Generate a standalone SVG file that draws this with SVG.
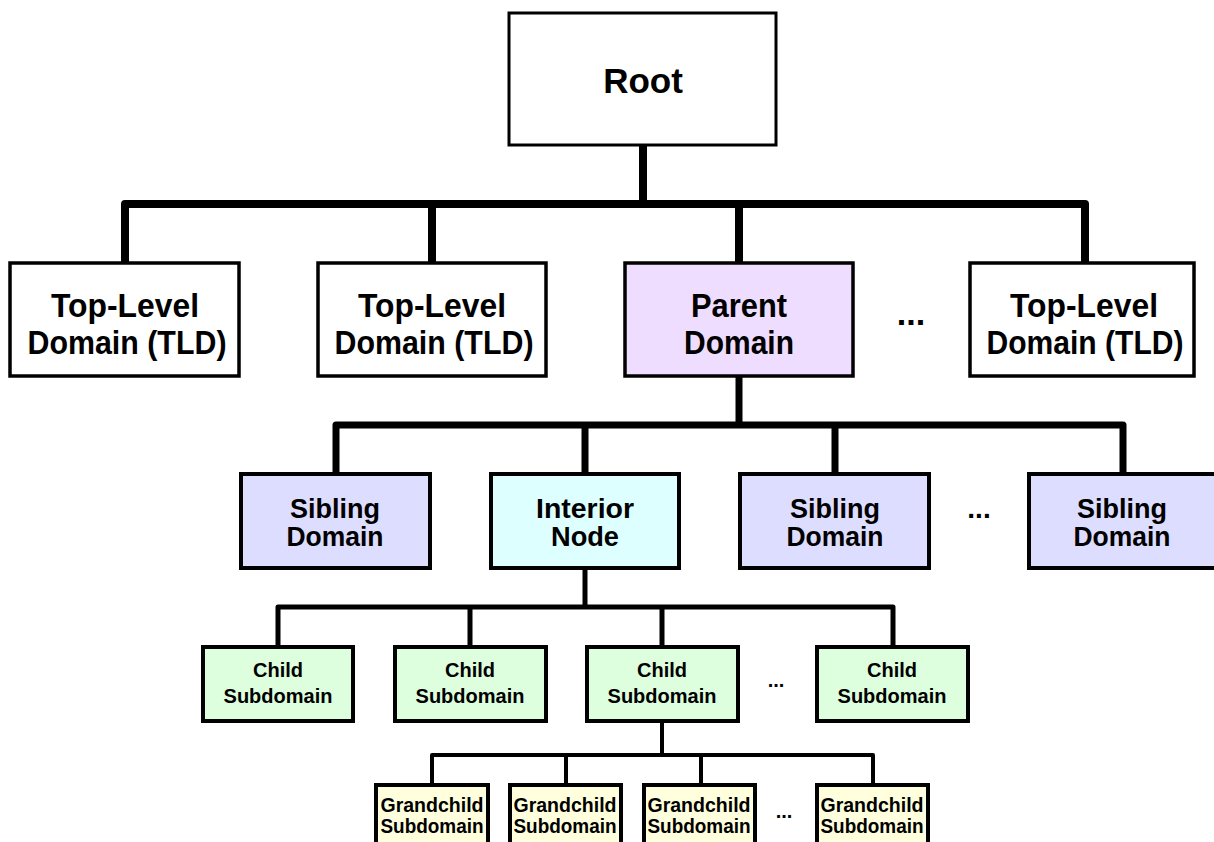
<svg xmlns="http://www.w3.org/2000/svg" width="1214" height="842" viewBox="0 0 1214 842">
<style>
.box{stroke:#000;}
.t{font-family:"Liberation Sans",Arial,Helvetica,sans-serif;font-weight:bold;fill:#000;text-anchor:middle;}
.c{fill:none;stroke:#000;stroke-linejoin:round;stroke-linecap:butt;}
</style>
<rect width="1214" height="842" fill="#fff"/>
<g id="connectors">
  <path class="c" stroke-width="8" d="M643 145 V204"/>
  <path class="c" stroke-width="8" d="M125 263 V204 H1085 V263 M432 204 V263 M739 204 V263"/>
  <path class="c" stroke-width="7" d="M739 376 V425"/>
  <path class="c" stroke-width="7" d="M336 474 V425 H1123 V474 M585 425 V474 M835 425 V474"/>
  <path class="c" stroke-width="5" d="M585 568 V607"/>
  <path class="c" stroke-width="5" d="M278 647 V607 H893 V647 M470 607 V647 M662 607 V647"/>
  <path class="c" stroke-width="4" d="M662 721 V755"/>
  <path class="c" stroke-width="4" d="M432 785 V755 H873 V785 M566 755 V785 M701 755 V785"/>
</g>
<g id="root">
  <rect class="box" x="509" y="13" width="267" height="132" fill="#fff" stroke-width="3"/>
  <text class="t" x="643" y="93" font-size="35">Root</text>
</g>
<g id="tld1">
  <rect class="box" x="10" y="263" width="229" height="113" fill="#fff" stroke-width="3.5"/>
  <text class="t" x="125" y="317" font-size="34" textLength="148" lengthAdjust="spacingAndGlyphs">Top-Level</text>
  <text class="t" x="127" y="354" font-size="34" textLength="199" lengthAdjust="spacingAndGlyphs">Domain (TLD)</text>
</g>
<g id="tld2">
  <rect class="box" x="318" y="263" width="228" height="113" fill="#fff" stroke-width="3.5"/>
  <text class="t" x="432" y="317" font-size="34" textLength="148" lengthAdjust="spacingAndGlyphs">Top-Level</text>
  <text class="t" x="434" y="354" font-size="34" textLength="199" lengthAdjust="spacingAndGlyphs">Domain (TLD)</text>
</g>
<g id="parent">
  <rect class="box" x="625" y="263" width="228" height="113" fill="#EEDDFF" stroke-width="3.5"/>
  <text class="t" x="739" y="317" font-size="34" textLength="96" lengthAdjust="spacingAndGlyphs">Parent</text>
  <text class="t" x="739" y="354" font-size="34" textLength="110" lengthAdjust="spacingAndGlyphs">Domain</text>
</g>
<g id="tld-more">
  <text class="t" x="911" y="325" font-size="34">...</text>
</g>
<g id="tld4">
  <rect class="box" x="970" y="263" width="224" height="113" fill="#fff" stroke-width="3.5"/>
  <text class="t" x="1084" y="317" font-size="34" textLength="148" lengthAdjust="spacingAndGlyphs">Top-Level</text>
  <text class="t" x="1085" y="354" font-size="34" textLength="197" lengthAdjust="spacingAndGlyphs">Domain (TLD)</text>
</g>
<g id="sibling1">
  <rect class="box" x="241" y="474" width="189" height="94" fill="#DDDDFF" stroke-width="4"/>
  <text class="t" x="335" y="518" font-size="28" textLength="90" lengthAdjust="spacingAndGlyphs">Sibling</text>
  <text class="t" x="335" y="546" font-size="28" textLength="97" lengthAdjust="spacingAndGlyphs">Domain</text>
</g>
<g id="interior">
  <rect class="box" x="491" y="474" width="188" height="94" fill="#DDFFFF" stroke-width="4"/>
  <text class="t" x="585" y="518" font-size="28" textLength="98" lengthAdjust="spacingAndGlyphs">Interior</text>
  <text class="t" x="585" y="546" font-size="28" textLength="68" lengthAdjust="spacingAndGlyphs">Node</text>
</g>
<g id="sibling3">
  <rect class="box" x="740" y="474" width="189" height="94" fill="#DDDDFF" stroke-width="4"/>
  <text class="t" x="835" y="518" font-size="28" textLength="90" lengthAdjust="spacingAndGlyphs">Sibling</text>
  <text class="t" x="835" y="546" font-size="28" textLength="97" lengthAdjust="spacingAndGlyphs">Domain</text>
</g>
<g id="sibling-more">
  <text class="t" x="979" y="518" font-size="28">...</text>
</g>
<g id="sibling4">
  <rect class="box" x="1029" y="474" width="190" height="94" fill="#DDDDFF" stroke-width="4"/>
  <text class="t" x="1122" y="518" font-size="28" textLength="90" lengthAdjust="spacingAndGlyphs">Sibling</text>
  <text class="t" x="1122" y="546" font-size="28" textLength="97" lengthAdjust="spacingAndGlyphs">Domain</text>
</g>
<g id="child1">
  <rect class="box" x="203" y="647" width="150" height="74" fill="#DDFFDD" stroke-width="4"/>
  <text class="t" x="278" y="677" font-size="20">Child</text>
  <text class="t" x="278" y="703" font-size="20">Subdomain</text>
</g>
<g id="child2">
  <rect class="box" x="395" y="647" width="151" height="74" fill="#DDFFDD" stroke-width="4"/>
  <text class="t" x="470" y="677" font-size="20">Child</text>
  <text class="t" x="470" y="703" font-size="20">Subdomain</text>
</g>
<g id="child3">
  <rect class="box" x="587" y="647" width="151" height="74" fill="#DDFFDD" stroke-width="4"/>
  <text class="t" x="662" y="677" font-size="20">Child</text>
  <text class="t" x="662" y="703" font-size="20">Subdomain</text>
</g>
<g id="child-more">
  <text class="t" x="776" y="687" font-size="20">...</text>
</g>
<g id="child4">
  <rect class="box" x="817" y="647" width="151" height="74" fill="#DDFFDD" stroke-width="4"/>
  <text class="t" x="892" y="677" font-size="20">Child</text>
  <text class="t" x="892" y="703" font-size="20">Subdomain</text>
</g>
<g id="grandchild1">
  <rect class="box" x="376" y="785" width="112" height="70" fill="#FFFFDD" stroke-width="4"/>
  <text class="t" x="432" y="812" font-size="20" textLength="103" lengthAdjust="spacingAndGlyphs">Grandchild</text>
  <text class="t" x="432" y="833" font-size="20" textLength="103" lengthAdjust="spacingAndGlyphs">Subdomain</text>
</g>
<g id="grandchild2">
  <rect class="box" x="510" y="785" width="111" height="70" fill="#FFFFDD" stroke-width="4"/>
  <text class="t" x="565" y="812" font-size="20" textLength="103" lengthAdjust="spacingAndGlyphs">Grandchild</text>
  <text class="t" x="565" y="833" font-size="20" textLength="103" lengthAdjust="spacingAndGlyphs">Subdomain</text>
</g>
<g id="grandchild3">
  <rect class="box" x="644" y="785" width="111" height="70" fill="#FFFFDD" stroke-width="4"/>
  <text class="t" x="699" y="812" font-size="20" textLength="103" lengthAdjust="spacingAndGlyphs">Grandchild</text>
  <text class="t" x="699" y="833" font-size="20" textLength="103" lengthAdjust="spacingAndGlyphs">Subdomain</text>
</g>
<g id="grandchild-more">
  <text class="t" x="784" y="818" font-size="20">...</text>
</g>
<g id="grandchild4">
  <rect class="box" x="817" y="785" width="111" height="70" fill="#FFFFDD" stroke-width="4"/>
  <text class="t" x="872" y="812" font-size="20" textLength="103" lengthAdjust="spacingAndGlyphs">Grandchild</text>
  <text class="t" x="872" y="833" font-size="20" textLength="103" lengthAdjust="spacingAndGlyphs">Subdomain</text>
</g>
</svg>
